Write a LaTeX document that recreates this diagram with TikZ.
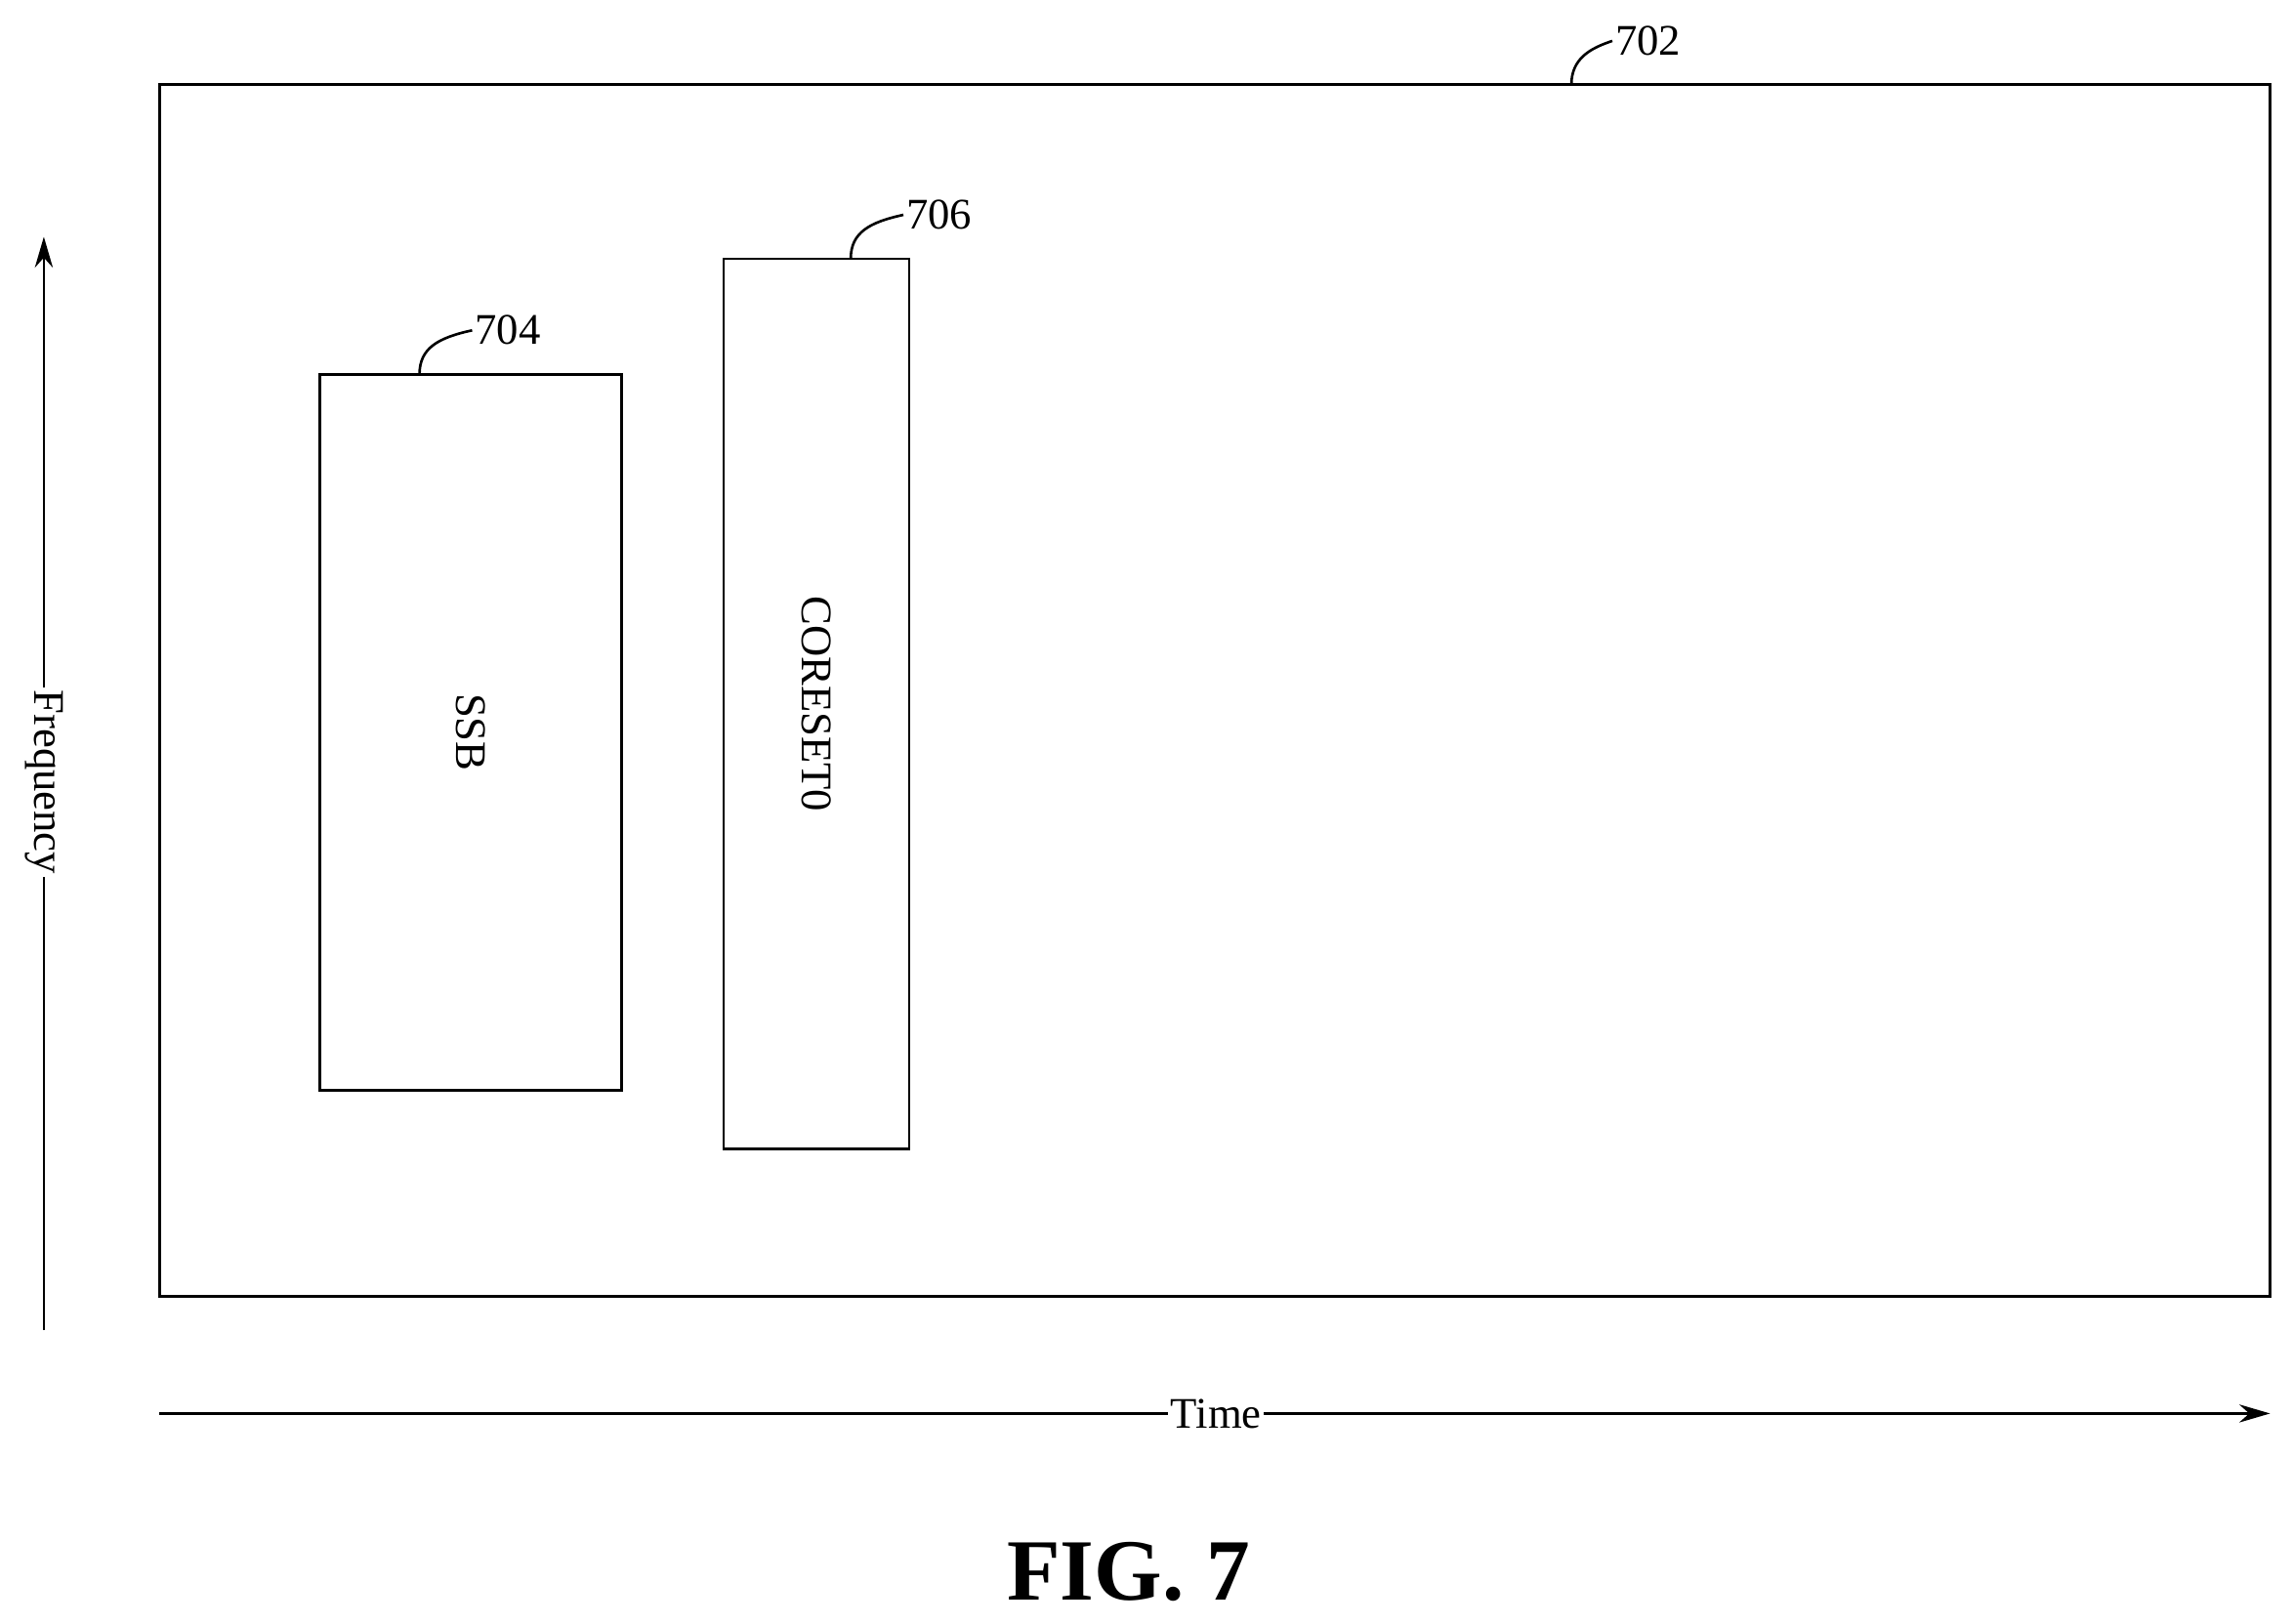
\documentclass[tikz,border=0pt]{standalone}
\usepackage{fontspec}
\setmainfont{Liberation Serif}
\usetikzlibrary{arrows.meta}
\tikzset{box/.style={draw,line width=1.1pt,rectangle,inner sep=0pt},
  lbl/.style={font=\fontsize{17}{20}\selectfont,inner sep=1pt},
  axis/.style={line width=1pt,-{Stealth[length=12pt,width=7pt]}},
  lead/.style={line width=1pt}}
\begin{document}
\begin{tikzpicture}[x=0.02cm,y=-0.02cm]
  \useasboundingbox (0,0) rectangle (1568,1111);
  % boxes
  \node[box,minimum width=28.88cm,minimum height=16.58cm] (frame) at (831,472.5) {};
  \node[box,minimum width=4.12cm,minimum height=9.8cm] (ssb) at (322,501)
     {\rotatebox{-90}{\fontsize{17}{20}\selectfont SSB}};
  \node[box,minimum width=2.54cm,minimum height=12.18cm] (coreset) at (558.5,481.5)
     {\rotatebox{-90}{\fontsize{17}{20}\selectfont CORESET0}};

  % reference numerals
  \coordinate (c702) at (1075,58);
  \coordinate (c704) at (287,256);
  \coordinate (c706) at (582,177);
  \node[lbl,anchor=west] (n702) at (1103,28) {702};
  \node[lbl,anchor=west] (n704) at (323,226) {704};
  \node[lbl,anchor=west] (n706) at (618,147) {706};
  \draw[lead] (c702) .. controls (1075,40) and (1088,33) .. (n702.west);
  \draw[lead] (c704) .. controls (287,238) and (300,231) .. (n704.west);
  \draw[lead] (c706) .. controls (582,159) and (595,152) .. (n706.west);

  % axes
  \coordinate (f0) at (30,910);
  \coordinate (f1) at (30,162);
  \coordinate (t0) at (109,967);
  \coordinate (t1) at (1553,967);
  \draw[axis] (f0) -- (f1);
  \draw[axis] (t0) -- (t1);
  \node[lbl,fill=white,rotate=-90] (freq) at (30,535) {Frequency};
  \node[lbl,fill=white] (time) at (832,967) {Time};

  \node[font=\bfseries\fontsize{34}{40}\selectfont] (fig) at (772,1075) {FIG. 7};
\end{tikzpicture}
\end{document}
